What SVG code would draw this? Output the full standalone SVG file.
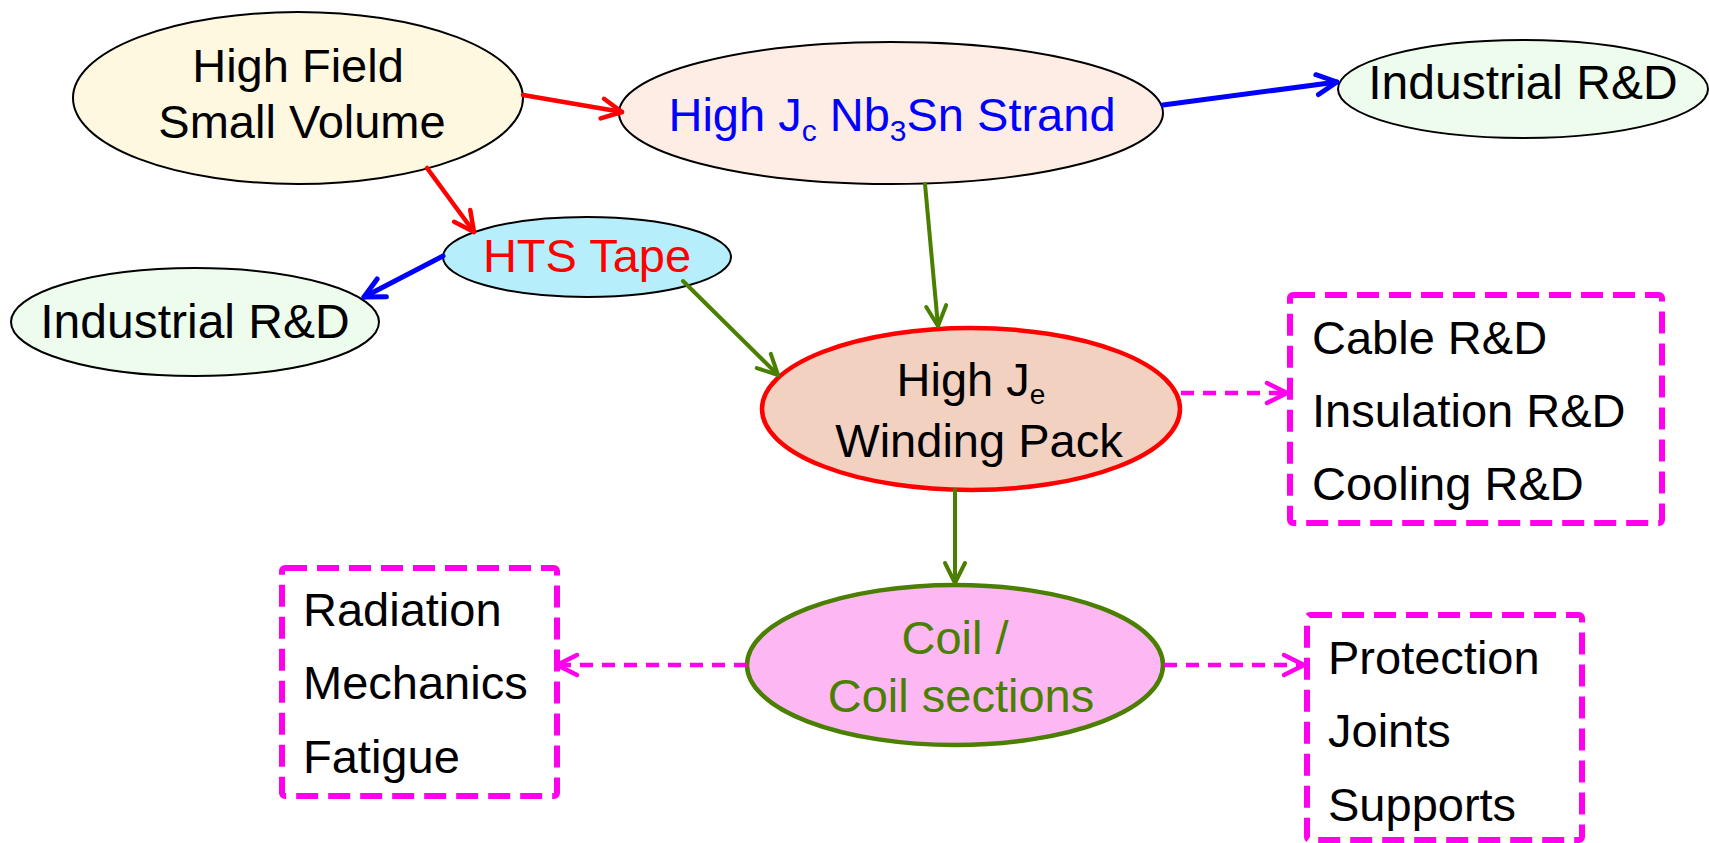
<svg xmlns="http://www.w3.org/2000/svg" width="1709" height="843" viewBox="0 0 1709 843">
<style>
  text { font-family: "Liberation Sans", Arial, sans-serif; font-size: 47px; fill: #000; }
  .thin { stroke: #000; stroke-width: 2; }
  .box { fill: none; stroke: #FF00EE; stroke-width: 6; stroke-dasharray: 22 10; }
  .conn { fill: none; stroke-linecap: round; }
  .red { stroke: #FF0000; stroke-width: 4.5; }
  .blue { stroke: #0000FF; stroke-width: 5; }
  .green { stroke: #4A7F00; stroke-width: 4; }
  .mag { stroke: #FF00EE; stroke-width: 4.5; stroke-dasharray: 13 9; stroke-linecap: butt; }
  .sub { font-size: 30px; }
</style>
<defs>
  <marker id="ar" markerUnits="userSpaceOnUse" viewBox="-26 -14 30 28" refX="0" refY="0" markerWidth="30" markerHeight="28" orient="auto" overflow="visible">
    <path d="M-20,-10 L0,0 L-20,10" fill="none" stroke="#FF0000" stroke-width="4.5" stroke-linecap="round" stroke-linejoin="round"/>
  </marker>
  <marker id="ab" markerUnits="userSpaceOnUse" viewBox="-26 -14 30 28" refX="0" refY="0" markerWidth="30" markerHeight="28" orient="auto" overflow="visible">
    <path d="M-20,-10 L0,0 L-20,10" fill="none" stroke="#0000FF" stroke-width="5" stroke-linecap="round" stroke-linejoin="round"/>
  </marker>
  <marker id="ag" markerUnits="userSpaceOnUse" viewBox="-26 -14 30 28" refX="0" refY="0" markerWidth="30" markerHeight="28" orient="auto" overflow="visible">
    <path d="M-20,-10 L0,0 L-20,10" fill="none" stroke="#4A7F00" stroke-width="4" stroke-linecap="round" stroke-linejoin="round"/>
  </marker>
  <marker id="am" markerUnits="userSpaceOnUse" viewBox="-26 -14 30 28" refX="0" refY="0" markerWidth="30" markerHeight="28" orient="auto" overflow="visible">
    <path d="M-20,-10 L0,0 L-20,10" fill="none" stroke="#FF00EE" stroke-width="4.5" stroke-linecap="round" stroke-linejoin="round"/>
  </marker>
</defs>
<rect width="1709" height="843" fill="#FFFFFF"/>

<g id="high-field">
  <ellipse class="thin" cx="298" cy="98" rx="225" ry="86" fill="#FEF8E1"/>
  <text x="298" y="82" text-anchor="middle">High Field</text>
  <text x="302" y="138" text-anchor="middle">Small Volume</text>
</g>

<g id="nb3sn-strand">
  <ellipse class="thin" cx="891" cy="113" rx="272" ry="71" fill="#FDEDE5"/>
  <text x="892" y="131" text-anchor="middle" style="fill:#0000FF">High J<tspan class="sub" dy="10" style="fill:#0000FF">c</tspan><tspan dy="-10"> Nb</tspan><tspan class="sub" dy="10" style="fill:#0000FF">3</tspan><tspan dy="-10">Sn Strand</tspan></text>
</g>

<g id="industrial-rd-right">
  <ellipse class="thin" cx="1523" cy="89" rx="185" ry="49" fill="#EEFCEE"/>
  <text x="1523" y="99" text-anchor="middle" style="font-size:48px">Industrial R&amp;D</text>
</g>

<g id="hts-tape">
  <ellipse class="thin" cx="587" cy="257" rx="144" ry="40" fill="#B6EEFB"/>
  <text x="587" y="272" text-anchor="middle" style="fill:#FF0000">HTS Tape</text>
</g>

<g id="industrial-rd-left">
  <ellipse class="thin" cx="195" cy="322" rx="184" ry="54" fill="#EEFCEE"/>
  <text x="195" y="338" text-anchor="middle" style="font-size:48px">Industrial R&amp;D</text>
</g>

<g id="winding-pack">
  <ellipse cx="971" cy="409" rx="209" ry="81" fill="#F2D1C0" stroke="#FF0000" stroke-width="4.5"/>
  <text x="971" y="396" text-anchor="middle">High J<tspan style="font-size:28px" dy="8">e</tspan></text>
  <text x="979" y="457" text-anchor="middle">Winding Pack</text>
</g>

<g id="coil">
  <ellipse cx="955" cy="665" rx="208" ry="80" fill="#FDB7F3" stroke="#4A7F00" stroke-width="4.5"/>
  <text x="955" y="654" text-anchor="middle" style="fill:#4A7F00">Coil /</text>
  <text x="961" y="712" text-anchor="middle" style="fill:#4A7F00">Coil sections</text>
</g>

<g id="box-rd">
  <rect class="box" x="1290" y="295" width="372" height="228" rx="3"/>
  <text x="1312" y="354">Cable R&amp;D</text>
  <text x="1312" y="427">Insulation R&amp;D</text>
  <text x="1312" y="500">Cooling R&amp;D</text>
</g>

<g id="box-mech">
  <rect class="box" x="282" y="568" width="275" height="228" rx="3"/>
  <text x="303" y="626">Radiation</text>
  <text x="303" y="699">Mechanics</text>
  <text x="303" y="773">Fatigue</text>
</g>

<g id="box-prot">
  <rect class="box" x="1307" y="615" width="275" height="225" rx="3"/>
  <text x="1328" y="674">Protection</text>
  <text x="1328" y="747">Joints</text>
  <text x="1328" y="821">Supports</text>
</g>

<g id="connectors">
  <line class="conn red" x1="523" y1="95" x2="622" y2="112" marker-end="url(#ar)"/>
  <line class="conn red" x1="427" y1="168" x2="474" y2="232" marker-end="url(#ar)"/>
  <line class="conn blue" x1="1163" y1="105" x2="1337" y2="82" marker-end="url(#ab)"/>
  <line class="conn blue" x1="443" y1="256" x2="364" y2="297" marker-end="url(#ab)"/>
  <line class="conn green" x1="925" y1="184" x2="938" y2="326" marker-end="url(#ag)"/>
  <line class="conn green" x1="683" y1="281" x2="778" y2="375" marker-end="url(#ag)"/>
  <line class="conn green" x1="955" y1="490" x2="955" y2="583" marker-end="url(#ag)"/>
  <line class="conn mag" x1="1181" y1="393" x2="1287" y2="393" marker-end="url(#am)"/>
  <line class="conn mag" x1="747" y1="665" x2="557" y2="665" marker-end="url(#am)"/>
  <line class="conn mag" x1="1164" y1="665" x2="1304" y2="665" marker-end="url(#am)"/>
</g>
</svg>
